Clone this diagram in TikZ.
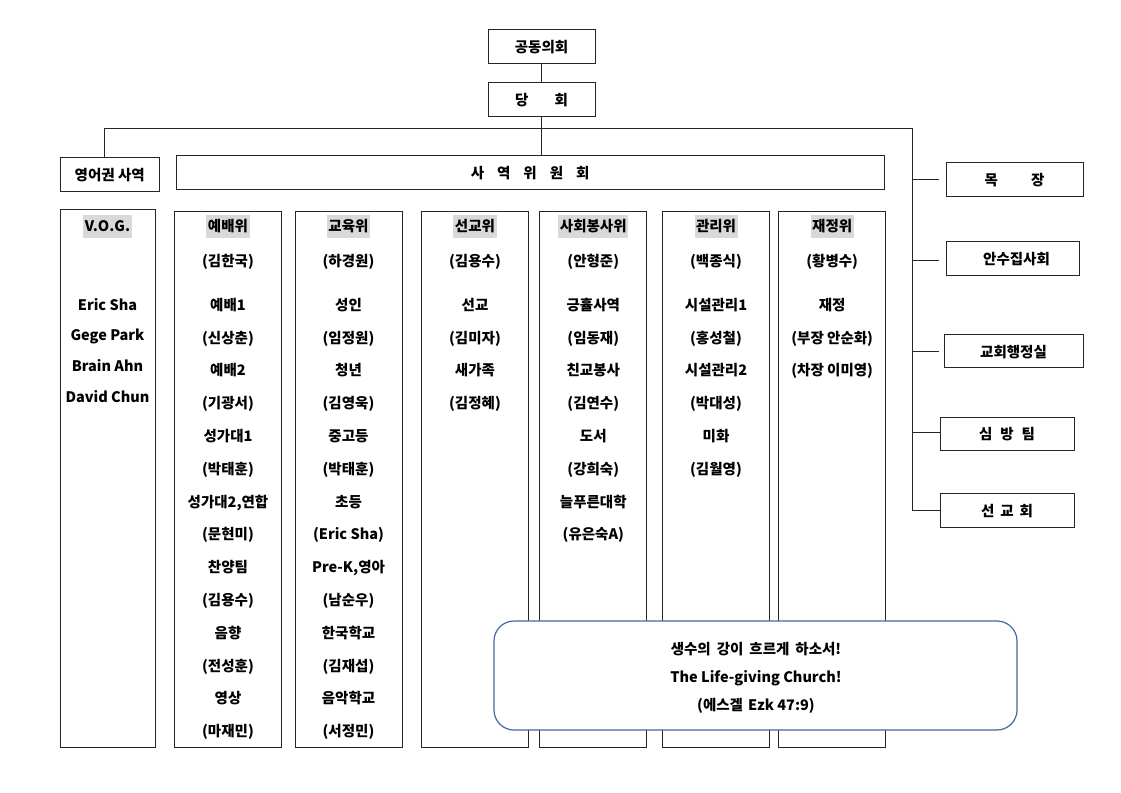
\documentclass[tikz,border=0pt]{standalone}
\usepackage{fontspec}
\setmainfont{Noto Sans CJK KR}
\definecolor{rbox}{RGB}{68,104,158}
\begin{document}
\begin{tikzpicture}[x=1pt,y=-1pt,
  every node/.style={font=\fontsize{14.5}{17}\selectfont\bfseries, inner sep=0pt, text height=13pt, text depth=1pt},
  box/.style={draw=black!85, line width=1pt, minimum height=34pt},
  colbox/.style={draw=black!85, line width=1pt},
  hdr/.style={fill=black!15, inner xsep=1.5pt, inner ysep=4pt, text height=12.5pt, text depth=2.5pt},
  conn/.style={draw=black!85, line width=1pt}
]
\useasboundingbox (0,0) rectangle (1121,792);
\fill[white] (0,0) rectangle (1121,792);

% top boxes
\node[box, minimum width=107pt, minimum height=33.5pt] (gd) at (541.5,46.75) {공동의회};
\node[box, minimum width=107pt] (dh) at (541.5,99) {당\hspace*{26pt}회};
\node[box, minimum width=99.4pt, minimum height=33.7pt] (eng) at (109.7,174.2) {영어권 사역};
\node[box, minimum width=707.8pt, minimum height=34.3pt] (sw) at (530.1,172.2) {사\hspace*{13pt}역\hspace*{13pt}위\hspace*{13pt}원\hspace*{13pt}회};

% right boxes
\node[box, minimum width=137pt] (mj) at (1014.5,179) {목\hspace*{33pt}장};
\node[box, minimum width=133pt, minimum height=33.5pt] (an) at (1012.5,258.5) {\hspace*{8pt}안수집사회};
\node[box, minimum width=139pt, minimum height=33.7pt] (gh) at (1013.5,351) {교회행정실};
\node[box, minimum width=134pt, minimum height=33pt] (sb) at (1007,433.5) {심\hspace*{8pt}방\hspace*{8pt}팀};
\node[box, minimum width=134pt, minimum height=33.3pt] (sg) at (1007,510.5) {선\hspace*{6pt}교\hspace*{6pt}회};

% connectors
\coordinate (jl) at (104,128.3);
\coordinate (jr) at (912,128.3);
\draw[conn] (gd.south) -- (dh.north);
\draw[conn] (dh.south) -- (dh.south |- sw.north);
\draw[conn] (jl |- eng.north) -- (jl) -- (jr) -- (jr |- sg.west);
\draw[conn] (jr |- mj.west) -- ([xshift=-7pt]mj.west);
\draw[conn] (jr |- 0,260.7) -- ([xshift=-7pt]an.west |- 0,260.7);
\draw[conn] (jr |- gh.west) -- ([xshift=-5pt]gh.west);
\draw[conn] (jr |- 0,432) -- (sb.west |- 0,432);
\draw[conn] (jr |- sg.west) -- (sg.west);

% columns
\node[colbox, minimum width=95pt, minimum height=538.5pt] (cv) at (107.5,478.25) {};
\node[colbox, minimum width=107pt, minimum height=536pt] (c1) at (228,479.5) {};
\node[colbox, minimum width=107pt, minimum height=536pt] (c2) at (348.5,479.5) {};
\node[colbox, minimum width=107pt, minimum height=536.5pt] (c3) at (475,479.25) {};
\node[colbox, minimum width=107.3pt, minimum height=536.5pt] (c4) at (593.3,479.25) {};
\node[colbox, minimum width=107.2pt, minimum height=536.5pt] (c5) at (716,479.25) {};
\node[colbox, minimum width=107.5pt, minimum height=536.5pt] (c6) at (832.2,479.25) {};

% headers
\node[hdr] (hv) at (107.5,226) {V.O.G.};
\node[hdr] (h1) at (228,226.5) {예배위};
\node[hdr] (h2) at (348.5,226.5) {교육위};
\node[hdr] (h3) at (475,226.5) {선교위};
\node[hdr] (h4) at (593.3,226.5) {사회봉사위};
\node[hdr] (h5) at (716,226.5) {관리위};
\node[hdr] (h6) at (832.2,226.5) {재정위};

% chairs
\node (n1) at (228,260) {(김한국)};
\node (n2) at (348.5,260) {(하경원)};
\node (n3) at (475,260) {(김용수)};
\node (n4) at (593.3,260) {(안형준)};
\node (n5) at (716,260) {(백종식)};
\node (n6) at (832.2,260) {(황병수)};

% V.O.G. names
\foreach \t [count=\i] in {Eric Sha,Gege Park,Brain Ahn,David Chun}
  \node (v\i) at (107.5,{304+(\i-1)*30.8}) {\t};

\foreach \t [count=\i] in {예배1,(신상춘),예배2,(기광서),성가대1,(박태훈),{성가대2,연합},(문현미),찬양팀,(김용수),음향,(전성훈),영상,(마재민)}
  \node (a\i) at (228,{304.3+(\i-1)*32.8}) {\t};

\foreach \t [count=\i] in {성인,(임정원),청년,(김영욱),중고등,(박태훈),초등,(Eric Sha),{Pre-K,영아},(남순우),한국학교,(김재섭),음악학교,(서정민)}
  \node (b\i) at (348.5,{304.3+(\i-1)*32.8}) {\t};

\foreach \t [count=\i] in {선교,(김미자),새가족,(김정혜)}
  \node (s\i) at (475,{304.3+(\i-1)*32.8}) {\t};

\foreach \t [count=\i] in {긍휼사역,(임동재),친교봉사,(김연수),도서,(강희숙),늘푸른대학,(유은숙A)}
  \node (d\i) at (593.3,{304.3+(\i-1)*32.8}) {\t};

\foreach \t [count=\i] in {시설관리1,(홍성철),시설관리2,(박대성),미화,(김월영)}
  \node (g\i) at (716,{304.3+(\i-1)*32.8}) {\t};

\foreach \t [count=\i] in {재정,(부장 안순화),(차장 이미영)}
  \node (f\i) at (832.2,{304.3+(\i-1)*32.8}) {\t};

% motto box
\node[draw=rbox, line width=1.2pt, rounded corners=20pt, fill=white, minimum width=523pt, minimum height=109pt] (motto) at (755.5,675.5) {};
\node (m1) at (756,648) {생수의\hspace*{6pt}강이\hspace*{6pt}흐르게\hspace*{6pt}하소서!};
\node (m2) at (756,676) {The Life-giving Church!};
\node (m3) at (756,704) {(에스겔\hspace*{5pt}Ezk 47:9)};
\end{tikzpicture}
\end{document}
